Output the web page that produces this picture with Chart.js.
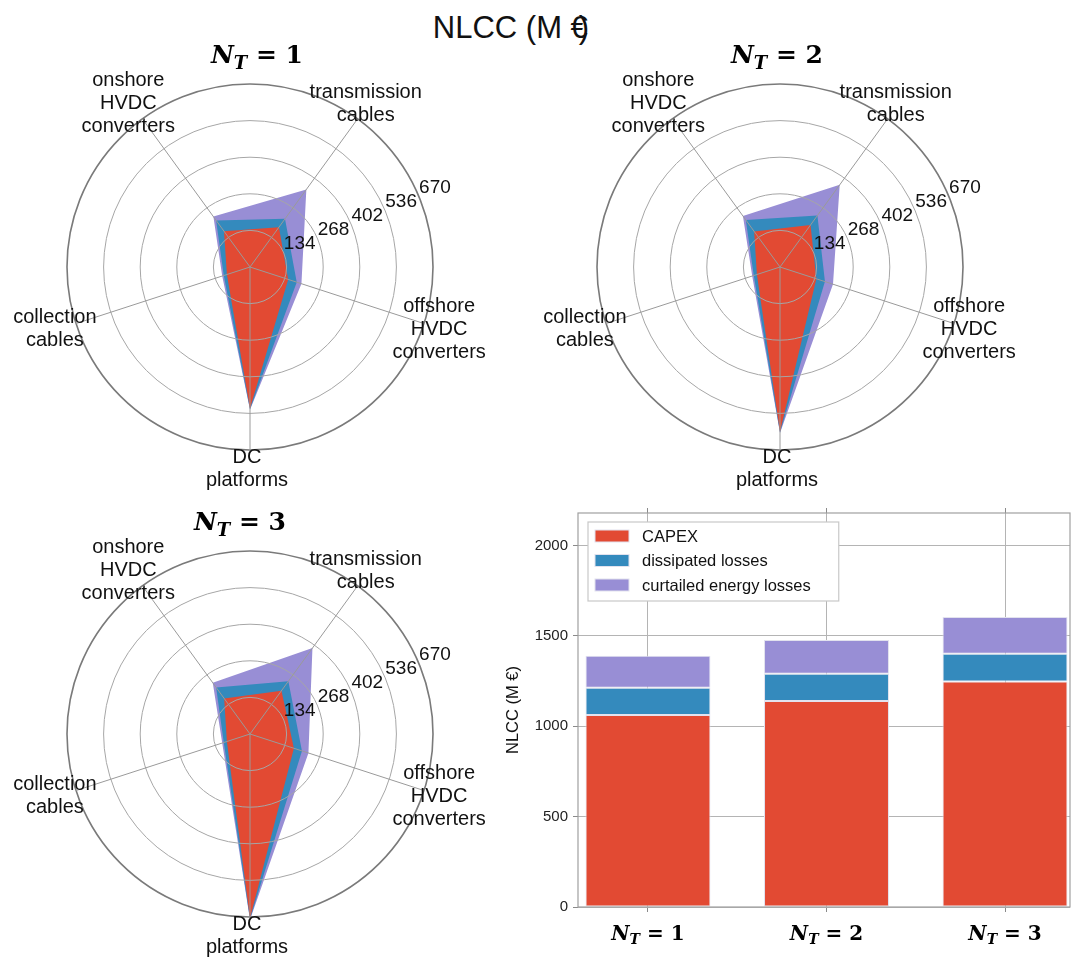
<!DOCTYPE html>
<html>
<head>
<meta charset="utf-8">
<title>NLCC</title>
<script src="https://cdn.jsdelivr.net/npm/chart.js@4.4.1/dist/chart.umd.min.js"></script>
<style>
  html, body { margin: 0; padding: 0; background: #fff; overflow: hidden; }
  body { position: relative; width: 1073px; height: 962px; font-family: "Liberation Sans", Arial, sans-serif; }
  .panel { position: absolute; }
  #title { position: absolute; left: 0; top: 12px; width: 1022px; text-align: center; font-size: 31px; line-height: 31px; color: #111; }
</style>
</head>
<body>
<div id="title">NLCC (M <span style="margin-right:-9px">€</span>)</div>
<div class="panel" style="left:-20px; top:27px; width:540px; height:480px;"><canvas id="radar1"></canvas></div>
<div class="panel" style="left:510px; top:27px; width:540px; height:480px;"><canvas id="radar2"></canvas></div>
<div class="panel" style="left:-20px; top:494px; width:540px; height:480px;"><canvas id="radar3"></canvas></div>
<div class="panel" style="left:500px; top:490px; width:573px; height:472px;"><canvas id="bars"></canvas></div>
<script>
(() => {
    'use strict';

    // spokes of the radar charts, clockwise from the top-right one
    const spokeLabels = [
        ['transmission', 'cables'],
        ['offshore', 'HVDC', 'converters'],
        ['DC', 'platforms'],
        ['collection', 'cables'],
        ['onshore', 'HVDC', 'converters'],
    ];
    const radialStep = 134;
    const radialMax = 670;

    // M€ per component, N_T = 1
    const capexNT1 = [180, 147, 518, 89, 162];
    const dissipatedNT1 = [38, 33, 3, 12, 49];
    const curtailedNT1 = [133, 18, 2, 6, 17];

    // N_T = 2
    const capexNT2 = [190, 140, 603, 89, 161];
    const dissipatedNT2 = [43, 33, 3, 12, 52];
    const curtailedNT2 = [139, 31, 2, 6, 18];

    // N_T = 3
    const capexNT3 = [196, 169, 675, 89, 161];
    const dissipatedNT3 = [43, 31, 3, 12, 50];
    const curtailedNT3 = [150, 25, 2, 6, 21];

    // totals for the bar chart
    const nt = ['1', '2', '3'];
    const capexTotal = [1062, 1140, 1248];
    const dissipatedTotal = [151, 151, 153];
    const curtailedTotal = [177, 187, 204];
    const seriesNames = ['CAPEX', 'dissipated losses', 'curtailed energy losses'];
    const barTicks = [0, 500, 1000, 1500, 2000];
    const barMax = 2180;

    const RED = '#E24A33';
    const BLUE = '#348ABD';
    const PURPLE = '#988ED5';
    const SANS = '"Liberation Sans", Arial, sans-serif';

    Chart.defaults.font.family = SANS;
    Chart.defaults.color = '#222';

    const drawNT = (ctx, n, cx, baseline, size) => {
        const big = `bold italic ${size}px "DejaVu Serif", serif`;
        const sub = `bold italic ${Math.round(size * 0.7)}px "DejaVu Serif", serif`;
        const rest = `bold ${size}px "DejaVu Serif", serif`;
        const tail = ` = ${n}`;
        ctx.save();
        ctx.textAlign = 'left';
        ctx.textBaseline = 'alphabetic';
        ctx.fillStyle = '#000';
        ctx.font = big;
        const wN = ctx.measureText('N').width;
        ctx.font = sub;
        const wT = ctx.measureText('T').width;
        ctx.font = rest;
        const wR = ctx.measureText(tail).width;
        let x = cx - (wN + wT + wR) / 2;
        ctx.font = big;
        ctx.fillText('N', x, baseline);
        x += wN;
        ctx.font = sub;
        ctx.fillText('T', x, baseline + size * 0.22);
        x += wT;
        ctx.font = rest;
        ctx.fillText(tail, x, baseline);
        ctx.restore();
    };

    const radarDecor = {
        id: 'radarDecor',
        afterDraw(chart, args, opts) {
            const scale = chart.scales.r;
            const ctx = chart.ctx;
            const a = 67.5 * Math.PI / 180;
            ctx.save();
            ctx.fillStyle = '#111';
            ctx.font = `19px ${SANS}`;
            ctx.textAlign = 'left';
            ctx.textBaseline = 'bottom';
            scale.ticks.forEach((tick) => {
                if (tick.value === 0) {
                    return;
                }
                const d = scale.getDistanceFromCenterForValue(tick.value);
                ctx.fillText(tick.label, scale.xCenter + d * Math.sin(a), scale.yCenter - d * Math.cos(a));
            });

            ctx.font = `20px ${SANS}`;
            ctx.textAlign = 'center';
            ctx.textBaseline = 'middle';
            chart.data.labels.forEach((lines, i) => {
                const p = scale.getPointPosition(i, scale.drawingArea + opts.labelGap);
                lines.forEach((line, k) => {
                    ctx.fillText(line, p.x - 3, p.y + (k - (lines.length - 1) / 2) * 23);
                });
            });
            ctx.restore();

            drawNT(ctx, opts.nt, scale.xCenter + opts.titleDx, scale.yCenter - 204, 25);
        },
    };

    const cumulate = (...parts) => parts[0].map((_, i) => parts.reduce((s, p) => s + p[i], 0));

    const makeRadar = (id, n, capex, dissipated, curtailed, titleDx) => {
        new Chart(document.getElementById(id), {
            type: 'radar',
            data: {
                labels: spokeLabels,
                datasets: [
                    { label: seriesNames[0], data: capex, backgroundColor: RED },
                    { label: seriesNames[1], data: cumulate(capex, dissipated), backgroundColor: BLUE },
                    { label: seriesNames[2], data: cumulate(capex, dissipated, curtailed), backgroundColor: PURPLE },
                ].map((ds) => ({ ...ds, fill: true, borderWidth: 0, pointRadius: 0, tension: 0 })),
            },
            plugins: [radarDecor],
            options: {
                responsive: true,
                maintainAspectRatio: false,
                animation: false,
                layout: { padding: { left: 87, right: 87, top: 57, bottom: 57 } },
                scales: {
                    r: {
                        min: 0,
                        max: radialMax,
                        startAngle: 36,
                        ticks: { display: false, stepSize: radialStep },
                        pointLabels: { display: false },
                        grid: {
                            circular: true,
                            z: 1,
                            color: (c) => (c.tick && c.tick.value === radialMax ? '#7a7a7a' : '#a6a6a6'),
                            lineWidth: (c) => (c.tick && c.tick.value === radialMax ? 1.6 : 1),
                        },
                        angleLines: { color: '#9a9a9a', lineWidth: 1 },
                    },
                },
                plugins: {
                    legend: { display: false },
                    tooltip: { enabled: false },
                    radarDecor: { nt: n, labelGap: 19, titleDx },
                },
            },
        });
    };

    makeRadar('radar1', nt[0], capexNT1, dissipatedNT1, curtailedNT1, 7);
    makeRadar('radar2', nt[1], capexNT2, dissipatedNT2, curtailedNT2, -3);
    makeRadar('radar3', nt[2], capexNT3, dissipatedNT3, curtailedNT3, -10);

    const barDecor = {
        id: 'barDecor',
        afterDraw(chart) {
            const ctx = chart.ctx;
            const area = chart.chartArea;
            const xScale = chart.scales.x;

            ctx.save();
            ctx.strokeStyle = '#a0a0a0';
            ctx.lineWidth = 1.2;
            ctx.strokeRect(area.left, area.top, area.right - area.left, area.bottom - area.top);

            // legend
            ctx.font = `16.5px ${SANS}`;
            const textW = Math.max(...chart.data.datasets.map((ds) => ctx.measureText(ds.label).width));
            const bx = area.left + 10;
            const by = area.top + 9;
            const bw = 54 + textW + 28;
            const bh = 79;
            ctx.fillStyle = '#ffffff';
            ctx.fillRect(bx, by, bw, bh);
            ctx.strokeStyle = '#c8c8c8';
            ctx.lineWidth = 1.2;
            ctx.strokeRect(bx, by, bw, bh);
            ctx.textAlign = 'left';
            ctx.textBaseline = 'middle';
            chart.data.datasets.forEach((ds, i) => {
                const y = by + 14 + i * 24.5;
                ctx.fillStyle = ds.backgroundColor;
                ctx.fillRect(bx + 7, y - 6, 34, 12);
                ctx.strokeStyle = '#e2e2ee';
                ctx.lineWidth = 1;
                ctx.strokeRect(bx + 7, y - 6, 34, 12);
                ctx.fillStyle = '#111';
                ctx.fillText(ds.label, bx + 54, y + 1);
            });
            ctx.restore();

            nt.forEach((n, i) => {
                drawNT(ctx, n, xScale.getPixelForValue(i), 450, 20);
            });
        },
    };

    const xMin = -0.392;
    const xMax = 2.364;
    const toPoints = (values) => values.map((v, i) => ({ x: i, y: v }));
    const groupTicks = (s) => { s.ticks = nt.map((_, i) => ({ value: i })); };

    new Chart(document.getElementById('bars'), {
        type: 'bar',
        data: {
            datasets: [
                { label: seriesNames[0], data: toPoints(capexTotal), backgroundColor: RED },
                { label: seriesNames[1], data: toPoints(dissipatedTotal), backgroundColor: BLUE },
                { label: seriesNames[2], data: toPoints(curtailedTotal), backgroundColor: PURPLE },
            ].map((ds) => ({
                ...ds,
                borderColor: '#e2e2ee',
                borderWidth: 1,
                borderSkipped: false,
                categoryPercentage: 1,
                barPercentage: 0.7,
            })),
        },
        plugins: [barDecor],
        options: {
            responsive: true,
            maintainAspectRatio: false,
            animation: false,
            layout: { padding: { left: 0, right: 3, top: 18, bottom: 0 } },
            scales: {
                x: {
                    type: 'linear',
                    stacked: true,
                    offset: false,
                    min: xMin,
                    max: xMax,
                    afterBuildTicks: groupTicks,
                    ticks: { display: false },
                    grid: { offset: false, color: '#b4b4b4', tickColor: '#8a8a8a', tickLength: 5 },
                    border: { display: false },
                    afterFit: (s) => { s.height = 55; },
                },
                x2: {
                    type: 'linear',
                    position: 'top',
                    offset: false,
                    min: xMin,
                    max: xMax,
                    afterBuildTicks: groupTicks,
                    ticks: { display: false },
                    grid: { offset: false, drawOnChartArea: false, tickColor: '#8a8a8a', tickLength: 5 },
                    border: { display: false },
                    afterFit: (s) => { s.height = 5; },
                },
                y: {
                    stacked: true,
                    min: 0,
                    max: barMax,
                    afterBuildTicks: (s) => { s.ticks = barTicks.map((v) => ({ value: v })); },
                    ticks: { padding: 5, font: { size: 15 }, color: '#222', callback: (v) => String(v) },
                    grid: { color: '#b4b4b4', tickColor: '#8a8a8a', tickLength: 5 },
                    border: { display: false },
                    title: { display: true, text: 'NLCC (M €)', font: { size: 16.5 }, color: '#111' },
                    afterFit: (s) => { s.width = 78; },
                },
            },
            plugins: {
                legend: { display: false },
                tooltip: { enabled: false },
            },
        },
    });
})();
</script>
</body>
</html>
